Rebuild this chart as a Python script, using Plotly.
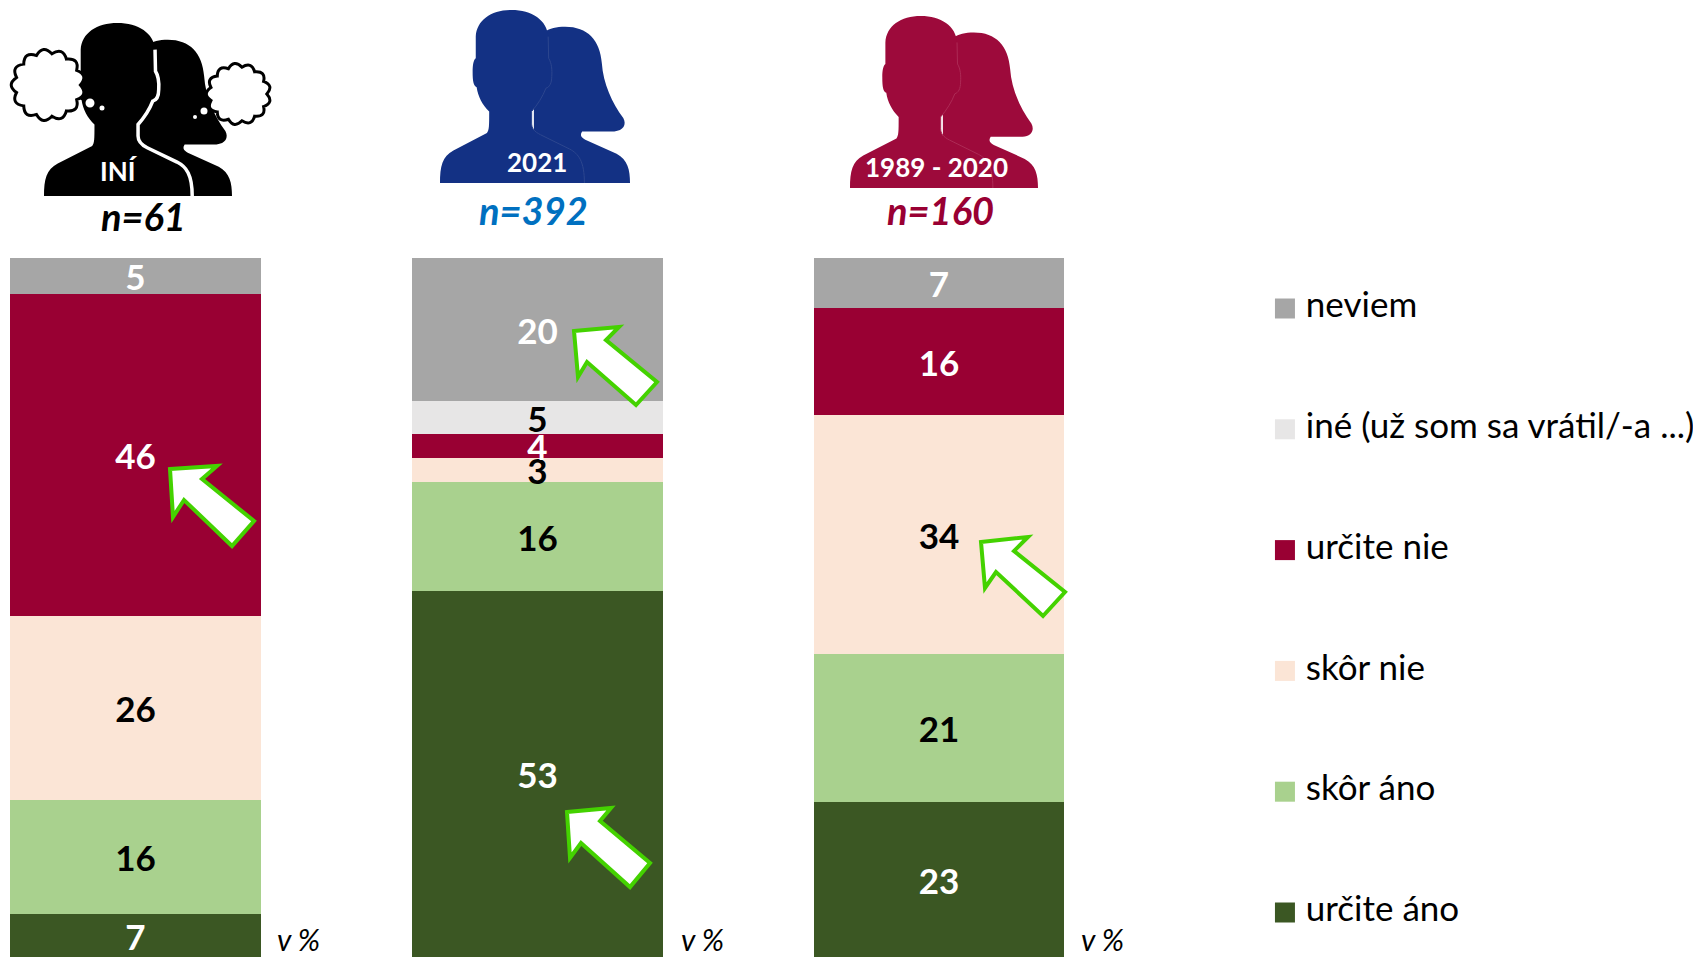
import math
import re

import plotly.graph_objects as go

# the browser keeps an 8px body margin, so the figure is 8px smaller and page pixels are offset
PAGE = 8
W, H = 1701 - PAGE, 957 - PAGE

# bar segments, bottom to top, heights
groups = ["INÍ", "2021", "1989 - 2020"]
segments = ["určite áno", "skôr áno", "skôr nie", "určite nie", "iné (už som sa vrátil/-a ...)", "neviem"]
urcite_ano = [6.2, 52.3, 22.2]
skor_ano = [16.3, 15.7, 21.1]
skor_nie = [26.3, 3.4, 34.2]
urcite_nie = [46.1, 3.4, 15.4]
ine = [None, 4.8, None]
neviem = [5.1, 20.4, 7.1]

# printed labels
lab_urcite_ano = ["7", "53", "23"]
lab_skor_ano = ["16", "16", "21"]
lab_skor_nie = ["26", "3", "34"]
lab_urcite_nie = ["46", "4", "16"]
lab_ine = ["", "5", ""]
lab_neviem = ["5", "20", "7"]

counts = ["n=61", "n=392", "n=160"]

colors = ["#3B5723", "#A9D18E", "#FBE5D6", "#990033", "#E7E6E6", "#A6A6A6"]
label_colors = ["white", "black", "black", "white", "black", "white"]
count_colors = ["black", "#0070C0", "#990033"]
icon_colors = ["black", "#133184", "#9D0A3B"]

FONT = "Lato"

series = [urcite_ano, skor_ano, skor_nie, urcite_nie, ine, neviem]
labels = [lab_urcite_ano, lab_skor_ano, lab_skor_nie, lab_urcite_nie, lab_ine, lab_neviem]

fig = go.Figure()
for i, name in enumerate(segments):
    fig.add_trace(go.Bar(
        x=[0, 1, 2], y=series[i], name=name, width=0.624,
        marker=dict(color=colors[i], line=dict(width=0)),
        text=labels[i], textposition="inside", insidetextanchor="middle",
        textangle=0, constraintext="none",
        textfont=dict(family=FONT, size=35, color=label_colors[i], weight="bold"),
        showlegend=False,
    ))

# legend drawn on its own y axis, one row per answer
rows = list(range(len(segments)))
fig.add_trace(go.Scatter(
    x=[2.861] * 6, y=rows, mode="markers", yaxis="y2", showlegend=False,
    marker=dict(symbol="square", size=20, color=colors, line=dict(width=0)),
))
fig.add_trace(go.Scatter(
    x=[2.913] * 6, y=rows, mode="text", yaxis="y2", showlegend=False,
    text=segments, textposition="middle right",
    textfont=dict(family=FONT, size=35, color="black"),
))


# helpers for the pictograms, all in page pixels
def px(x, y):
    return (x - PAGE) / W, 1 - (y - PAGE) / H


def poly(points, fill, line, width):
    d = ""
    for k, (x, y) in enumerate(points):
        fx, fy = px(x, y)
        d += ("M" if k == 0 else "L") + f"{fx:.5f},{fy:.5f} "
    fig.add_shape(type="path", path=d + "Z", xref="paper", yref="paper",
                  fillcolor=fill, line=dict(color=line, width=width))


def template(path, box, fill, line, width):
    left, top, right, bottom = box

    def conv(m):
        a, b = float(m.group(1)), float(m.group(2))
        fx, fy = px(left + (a - 90) / 425 * (right - left), top + (b - 30) / 520 * (bottom - top))
        return f"{fx:.5f},{fy:.5f}"

    d = re.sub(r"(-?[\d.]+),(-?[\d.]+)", conv, path)
    fig.add_shape(type="path", path=d, xref="paper", yref="paper",
                  fillcolor=fill, line=dict(color=line, width=width))


WOMAN = ("M300,550 L515,550 C515,510 510,480 485,462 L415,420 C405,412 403,405 408,395 "
         "L480,395 C500,393 508,375 500,355 C475,310 455,250 452,190 C448,120 420,80 370,80 "
         "C350,80 335,85 325,95 L300,200 Z")
MAN = ("M90,550 C90,500 95,470 120,452 L195,400 C200,390 200,380 200,335 C185,315 175,290 172,262 "
       "C165,258 163,245 163,215 C163,195 165,180 170,175 L170,110 C172,60 205,30 250,30 "
       "C295,30 330,60 332,110 L333,175 C340,190 341,210 340,230 C340,250 335,262 327,265 "
       "C320,290 308,315 295,335 L295,370 C295,385 300,395 315,405 L380,448 C400,462 413,485 413,550 Z")
SEPARATOR = ("M332,110 L333,175 C340,190 341,210 340,230 C340,250 335,262 327,265 "
             "C320,290 308,315 295,335 L295,370 C295,385 300,395 315,405 L380,448 "
             "C400,462 413,485 413,550")

boxes = [(44, 23, 232, 196), (440, 10, 630, 183), (850, 16, 1038, 188)]
man_boxes = [(44, 23, 239, 196), (440, 10, 630, 183), (850, 16, 1038, 188)]
sep_colors = ["white", "#2C468F", "#AD2A55"]
sep_widths = [3.5, 1, 1]
for k, box in enumerate(boxes):
    template(WOMAN, box, icon_colors[k], icon_colors[k], 0)
    template(MAN, man_boxes[k], icon_colors[k], icon_colors[k], 0)
    template(SEPARATOR, man_boxes[k], "rgba(0,0,0,0)", sep_colors[k], sep_widths[k])


def cloud(left, top, right, bottom, bumps):
    cx, cy = (left + right) / 2, (top + bottom) / 2
    rx, ry = (right - left) / 2 * 0.9, (bottom - top) / 2 * 0.9
    d = ""
    for k in range(bumps + 1):
        t = 2 * math.pi * k / bumps
        x, y = px(cx + rx * math.cos(t), cy + ry * math.sin(t))
        if k == 0:
            d += f"M{x:.5f},{y:.5f} "
        else:
            tm = 2 * math.pi * (k - 0.5) / bumps
            qx, qy = px(cx + rx * 1.3 * math.cos(tm), cy + ry * 1.3 * math.sin(tm))
            d += f"Q{qx:.5f},{qy:.5f} {x:.5f},{y:.5f} "
    fig.add_shape(type="path", path=d + "Z", xref="paper", yref="paper",
                  fillcolor="white", line=dict(color="black", width=3))


cloud(12, 50, 84, 120, 13)
cloud(207, 64, 270, 124, 13)
for cx, cy, r in [(90, 103, 4.5), (102, 108, 2.5), (204, 111, 3.5), (195, 117, 2)]:
    x0, y0 = px(cx - r, cy - r)
    x1, y1 = px(cx + r, cy + r)
    fig.add_shape(type="circle", xref="paper", yref="paper", x0=x0, y0=y0, x1=x1, y1=y1,
                  fillcolor="white", line=dict(width=0))

# green arrows
ARROW = "#44D200"
arrows = [
    [(170, 469), (217, 466), (202, 479), (254, 521), (232, 546), (184, 500), (173, 517)],
    [(574, 331), (619, 327), (606, 340), (657, 382), (636, 405), (587, 362), (578, 377)],
    [(567, 812), (611, 808), (600, 821), (650, 863), (630, 887), (581, 843), (570, 858)],
    [(981, 542), (1028, 537), (1014, 551), (1065, 592), (1043, 616), (996, 572), (985, 588)],
]
for pts in arrows:
    poly(pts, "white", ARROW, 4)


def note(text, x, y, size, color="black", bold=False, italic=False):
    fx, fy = px(x, y)
    fig.add_annotation(text=text, x=fx, y=fy, xref="paper", yref="paper", showarrow=False,
                       xanchor="center", yanchor="middle",
                       font=dict(family=FONT, size=size, color=color,
                                 weight="bold" if bold else "normal",
                                 style="italic" if italic else "normal"))


for k, (x, y) in enumerate([(119, 171), (537, 162), (936, 167)]):
    note(groups[k], x, y, 26, "white", bold=True)
for k, (x, y) in enumerate([(143, 216), (533, 210), (940, 210)]):
    note(counts[k], x, y, 38, count_colors[k], bold=True, italic=True)
for x, y in [(298, 939), (702, 939), (1102, 939)]:
    note("v %", x, y, 30, italic=True)

# page x = 135.4 + 401.8 * bar index, legend rows 120.8px apart
fig.update_layout(
    width=W, height=H, barmode="stack", bargap=0,
    margin=dict(l=0, r=0, t=0, b=0, pad=0),
    paper_bgcolor="white", plot_bgcolor="rgba(0,0,0,0)",
    xaxis=dict(range=[(PAGE - 135.4) / 401.8, (1701 - 135.4) / 401.8], visible=False, fixedrange=True),
    yaxis=dict(range=[0, 100], domain=[0, 699 / H], visible=False, fixedrange=True),
    yaxis2=dict(range=[-44.5 / 120.8, 5 + 300.5 / 120.8], domain=[0, 1], anchor="x",
                visible=False, fixedrange=True),
)

fig.write_html("out.html")
